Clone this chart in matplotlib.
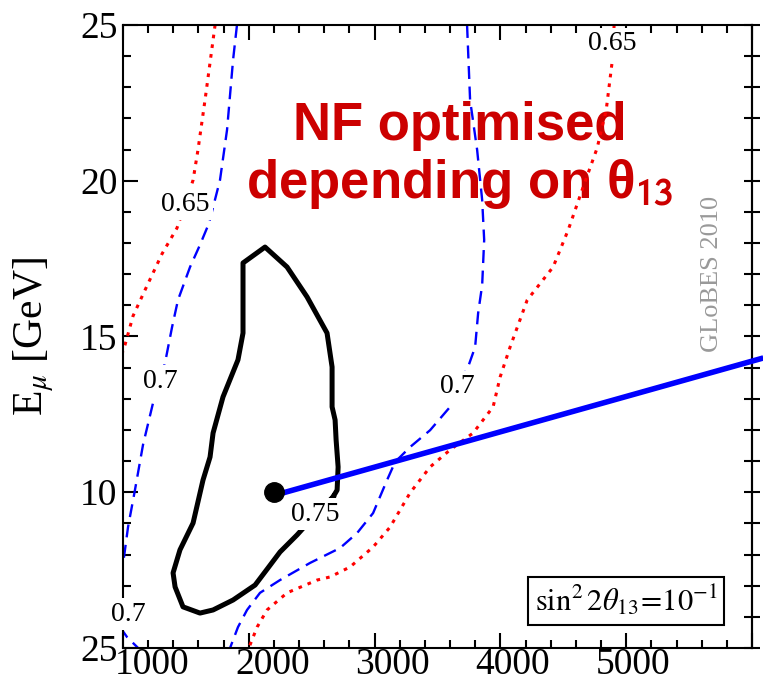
'''
Recreates the GLoBES 2010 neutrino factory plot: muon energy vs baseline contours.
'''
import matplotlib
matplotlib.use('Agg')
import matplotlib.pyplot as plt
from matplotlib.ticker import MultipleLocator, NullLocator

plt.rcParams['font.family'] = 'serif'
plt.rcParams['font.serif'] = ['Liberation Serif', 'DejaVu Serif']
plt.rcParams['mathtext.fontset'] = 'stix'

# 0.65 contour (red dotted), left and right branches
red_left_x = [1732, 1652, 1596, 1557, 1493, 1429, 1310, 1175, 1080, 1016, 976]
red_left_y = [25.0, 22.59, 20.99, 20.02, 19.22, 18.48, 17.65, 16.49, 15.66, 14.73, 14.25]
red_right_x = [4904, 4888, 4841, 4769, 4658, 4539, 4419, 4213, 4077, 3998, 3942, 3783, 3600,
               3441, 3282, 3123, 2988, 2805, 2646, 2543, 2304, 2145, 2066, 2010, 1994]
red_right_y = [25.0, 23.81, 22.27, 21.05, 19.80, 18.42, 17.23, 16.17, 14.66, 13.70, 12.74, 11.90,
               11.36, 10.81, 9.98, 8.88, 8.24, 7.60, 7.28, 7.18, 6.77, 6.22, 5.67, 5.10, 4.87]

# 0.7 contour (blue dashed), left and right branches
blue_left_x = [1906, 1875, 1827, 1771, 1684, 1612, 1533, 1437, 1390, 1334, 1294, 1239, 1159,
               1095, 1040, 1008, 984, 960, 992, 1032, 1135, 1175]
blue_left_y = [25.0, 23.88, 21.63, 20.02, 18.64, 17.94, 17.23, 16.17, 15.30, 14.15, 13.57, 12.87,
               11.52, 10.07, 8.88, 7.92, 7.34, 6.54, 5.58, 5.35, 4.94, 4.61]
blue_right_x = [3735, 3759, 3815, 3855, 3871, 3855, 3823, 3799, 3743, 3656, 3600, 3441, 3282,
                3163, 3099, 2988, 2861, 2726, 2487, 2248, 2089, 1986, 1914, 1851, 1820]
blue_right_y = [25.0, 22.59, 20.99, 19.38, 18.10, 16.65, 15.75, 14.66, 14.02, 13.38, 12.74, 11.99,
                11.45, 10.97, 10.39, 9.33, 8.69, 8.21, 7.73, 7.18, 6.77, 6.22, 5.67, 5.0, 4.8]

# 0.75 contour (black solid)
black_x = [2670, 2702, 2710, 2694, 2686, 2662, 2662, 2622, 2463, 2304, 2129, 1954, 1954, 1914,
           1795, 1716, 1692, 1636, 1557, 1453, 1398, 1414, 1477, 1612, 1716, 1875, 2050, 2153,
           2248, 2384, 2527, 2670]
black_y = [9.85, 10.07, 10.81, 11.68, 12.32, 12.74, 14.02, 15.11, 16.27, 17.23, 17.87, 17.36,
           15.11, 14.25, 13.06, 11.90, 11.13, 10.39, 9.01, 8.15, 7.41, 6.96, 6.32, 6.12, 6.22,
           6.54, 7.02, 7.57, 8.08, 8.63, 9.27, 9.85]

# optimum point and the blue line running away from it
best_x, best_y = 2200, 10.0
line_x = [2185, 6090]
line_y = [9.88, 14.31]

# contour labels
label_text = ['0.65', '0.65', '0.7', '0.7', '0.7', '0.75']
label_x = [4888, 1493, 1294, 1040, 3656, 2527]
label_y = [24.39, 19.25, 13.57, 6.09, 13.38, 9.30]

xtick_values = [1000, 2000, 3000, 4000, 5000]
ytick_values = [5, 10, 15, 20, 25]
ytick_labels = ['25', '10', '15', '20', '25']


def tick_to_label(x):
    '''maps the tick-mark frame onto the (shifted) tick-label frame'''
    return (x - 1230.6) / 0.9562 + 1000


def label_to_tick(v):
    return 1230.6 + (v - 1000) * 0.9562


fig = plt.figure(figsize=(7.63, 6.82), dpi=100)
ax = fig.add_axes([0.1612, 0.0499, 0.8244, 0.9135])
ax.set_xlim(1000, 6000)
ax.set_ylim(5, 25)

ax.plot(red_left_x, red_left_y, color='#ff0000', lw=2.2, dashes=(1.2, 2.0), zorder=2)
ax.plot(red_right_x, red_right_y, color='#ff0000', lw=2.2, dashes=(1.2, 2.0), zorder=2)
ax.plot(blue_left_x, blue_left_y, color='#0000ff', lw=1.7, dashes=(5.5, 3.2), zorder=2)
ax.plot(blue_right_x, blue_right_y, color='#0000ff', lw=1.7, dashes=(5.5, 3.2), zorder=2)
ax.plot(black_x, black_y, color='black', lw=3.6, zorder=3, solid_joinstyle='round')

for txt, lx, ly in zip(label_text, label_x, label_y):
    ax.text(lx, ly, txt, fontsize=20, ha='center', va='center', zorder=4,
            bbox=dict(boxstyle='square,pad=0.12', fc='white', ec='none'))

ax.plot(line_x, line_y, color='#0000ff', lw=4, zorder=5, clip_on=False, solid_capstyle='butt')
ax.plot([best_x], [best_y], 'o', color='black', ms=14, zorder=6)

# ticks
ax.xaxis.set_major_locator(MultipleLocator(1000))
ax.xaxis.set_minor_locator(MultipleLocator(200))
ax.set_yticks(ytick_values)
ax.set_yticklabels(ytick_labels)
ax.yaxis.set_minor_locator(MultipleLocator(1))
ax.tick_params(which='both', direction='in', width=1.5, top=True, right=False,
               labelbottom=False, labelsize=27, pad=4)
ax.tick_params(which='major', length=11)
ax.tick_params(which='minor', length=6)
for sp in ax.spines.values():
    sp.set_linewidth(1.5)

secx = ax.secondary_xaxis('bottom', functions=(tick_to_label, label_to_tick))
secx.set_xticks(xtick_values)
secx.xaxis.set_minor_locator(NullLocator())
secx.tick_params(length=0, labelsize=27, pad=0)
secx.spines['bottom'].set_visible(False)

secy = ax.secondary_yaxis('right')
secy.set_yticks(ytick_values)
secy.yaxis.set_minor_locator(MultipleLocator(1))
secy.tick_params(which='both', direction='inout', length=12, width=1.5, labelright=False)
secy.spines['right'].set_linewidth(1.5)

ax.set_ylabel(r'E$_\mu$ [GeV]', fontsize=30)
ax.yaxis.set_label_coords(-0.106, 0.5)

# annotations
title_kw = dict(family='Liberation Sans', weight='bold', size=38, color='#cc0000',
                ha='center', va='baseline', transform=fig.transFigure, zorder=1)
ax.text(0.603, 0.7947, 'NF optimised', **title_kw)
ax.text(0.603, 0.7097, 'depending on θ$_{\\mathbf{13}}$', math_fontfamily='stixsans', **title_kw)

ax.text(0.933, 0.598, 'GLoBES 2010', rotation=90, color='#999999', fontsize=19,
        ha='center', va='center', transform=fig.transFigure, zorder=1)

ax.text(0.8204, 0.1188, r'$\sin^2 2\theta_{13}\!=\!10^{-1}$', fontsize=22,
        ha='center', va='center', transform=fig.transFigure, zorder=4,
        bbox=dict(boxstyle='square,pad=0.22', fc='white', ec='black', lw=1.5))

fig.savefig('out.png', dpi=100)
